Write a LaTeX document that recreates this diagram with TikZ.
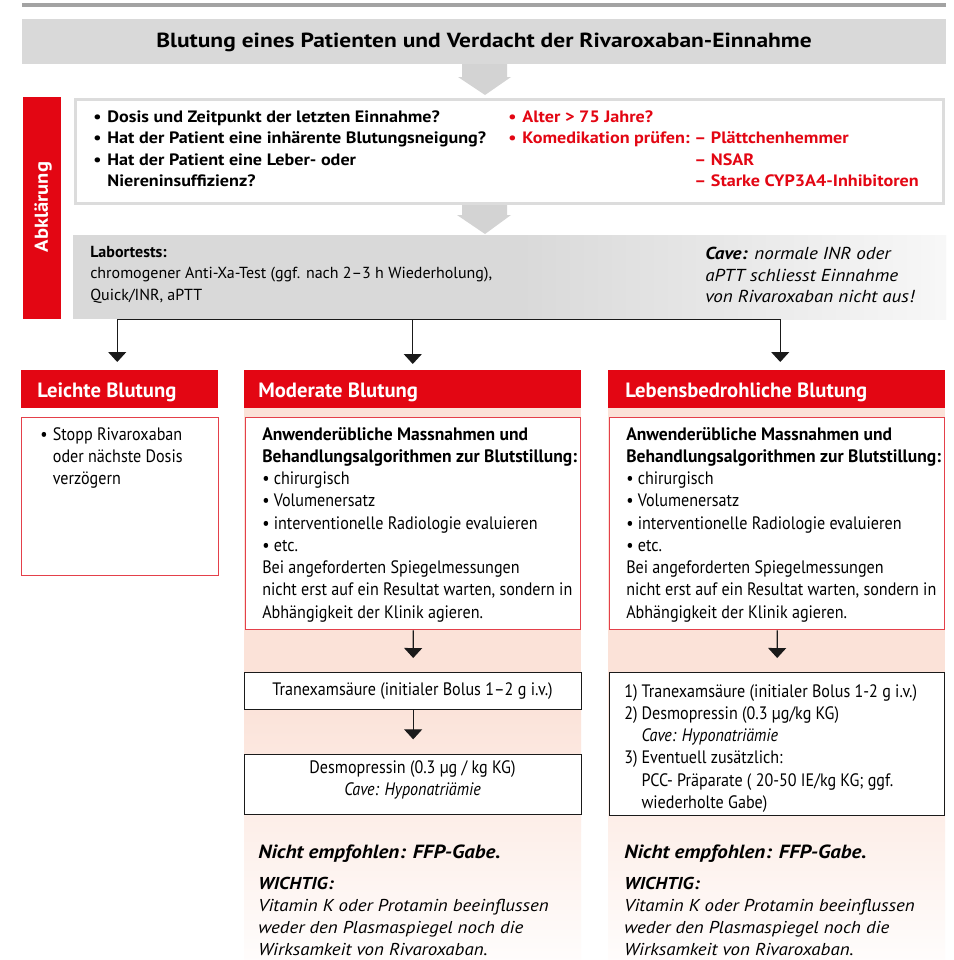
\documentclass[tikz,border=0pt]{standalone}
\usepackage{fontspec}
\setmainfont{PT Sans}
\newfontfamily\cond{PT Sans}[FakeStretch=0.895, BoldFeatures={FakeStretch=0.975}]
\newfontfamily\wide{PT Sans}[FakeStretch=1.1]
\newfontfamily\titlefont{PT Sans}[FakeStretch=1.15]
\usetikzlibrary{arrows.meta}
\definecolor{rred}{HTML}{E30613}
\definecolor{bred}{HTML}{E4404A}
\definecolor{pinkbg}{HTML}{FBE2D8}
\definecolor{lgray}{HTML}{D9D9D9}
\definecolor{tgray}{HTML}{A3A3A3}
\definecolor{agray}{HTML}{D3D3D3}
\definecolor{qgray}{HTML}{DCDCDC}
\definecolor{dark}{HTML}{1A1A1A}
\begin{document}
\begin{tikzpicture}[x=0.75pt,y=-0.75pt,
  conn/.style={draw=dark, line width=0.9pt},
  tip/.style={-{Triangle[width=13.5pt,length=7.5pt]}},
  txt/.style={inner sep=0pt, anchor=base west},
  boxnw/.style={inner sep=0pt, anchor=north west},
  redbox/.style={boxnw, draw=bred, line width=1.1pt, fill=white},
  blkbox/.style={boxnw, draw=dark, line width=1pt, fill=white},
  headbox/.style={boxnw, fill=rred, minimum height=28.5pt},
  bodyfont/.style={font=\cond\fontsize{13.5}{16.7}\selectfont},
  headfont/.style={font=\rmfamily\bfseries\fontsize{15.5}{18}\selectfont, text=white},
  notefont/.style={font=\wide\itshape\fontsize{12.9}{16.5}\selectfont}
]
\useasboundingbox (0,0) rectangle (953,960);
\fill[white] (0,0) rectangle (953,960);

% top rule
\draw[tgray, line width=2.4pt] (22,5) -- (946,5);

% title
\node[boxnw, fill=lgray, minimum width=693pt, minimum height=33.75pt] (title) at (22,19) {};
\node[inner sep=0pt, font=\titlefont\bfseries\fontsize{15.3}{18}\selectfont] (titletext) at (484,42) {Blutung eines Patienten und Verdacht der Rivaroxaban-Einnahme};

% block arrows
\fill[agray] (462,64) -- (507,64) -- (507,77) -- (511,77) -- (485,95) -- (458,77) -- (462,77) -- cycle;
\fill[agray] (462,202) -- (507,202) -- (507,215) -- (511,215) -- (485,234) -- (457,215) -- (462,215) -- cycle;

% Abklaerung bar
\node[boxnw, fill=rred, minimum width=28.5pt, minimum height=166.5pt] (abk) at (23,97) {};
\node[rotate=90, inner sep=0pt, text=white, font=\wide\bfseries\fontsize{14}{16}\selectfont] (abktext) at (43,207) {Abklärung};

% question box
\node[boxnw, draw=qgray, line width=2pt, fill=white, minimum width=651pt, minimum height=78pt] (qbox) at (74,98) {};
\node[txt, font=\wide\bfseries\fontsize{12.35}{16.2}\selectfont] (qtext) at (93,122)
{\begin{tabular}[t]{@{}l@{\hspace{4.5pt}}l@{}}
\textbullet & Dosis und Zeitpunkt der letzten Einnahme?\\
\textbullet & Hat der Patient eine inhärente Blutungsneigung?\\
\textbullet & Hat der Patient eine Leber- oder\\
 & Niereninsuffizienz?
\end{tabular}};
\node[txt, text=rred, font=\wide\bfseries\fontsize{12.35}{16.2}\selectfont] (rtext) at (508,122)
{\begin{tabular}[t]{@{}l@{\hspace{4.5pt}}l@{\hspace{3.5pt}}l@{}}
\textbullet & Alter > 75 Jahre? & \\
\textbullet & Komedikation prüfen: & – Plättchenhemmer\\
 & & – NSAR\\
 & & – Starke CYP3A4-Inhibitoren
\end{tabular}};

% lab box
\node[boxnw, fill=lgray, minimum width=654.75pt, minimum height=63pt] (lab) at (73,235) {};
\shade[left color=lgray, right color=white!97!black] (520,235) rectangle (946,319);
\node[txt, font=\rmfamily\fontsize{12}{16.2}\selectfont] (labtext) at (90,257)
{\begin{tabular}[t]{@{}l@{}}
\textbf{Labortests:}\\
chromogener Anti-Xa-Test (ggf. nach 2–3 h Wiederholung),\\
Quick/INR, aPTT
\end{tabular}};
\node[txt, font=\wide\itshape\fontsize{13}{16.2}\selectfont] (cavetext) at (705,259.5)
{\begin{tabular}[t]{@{}l@{}}
\textbf{Cave:} normale INR oder\\
aPTT schliesst Einnahme\\
von Rivaroxaban nicht aus!
\end{tabular}};

% pink column backgrounds
\fill[pinkbg] (244,400) rectangle (581,700);
\shade[top color=pinkbg, bottom color=pinkbg!8!white] (244,699.5) rectangle (581,960);
\fill[pinkbg] (608,400) rectangle (945,700);
\shade[top color=pinkbg, bottom color=pinkbg!8!white] (608,699.5) rectangle (945,960);

% headers
\node[headbox, minimum width=147.75pt] (leihead) at (21,370) {};
\node[headbox, minimum width=252.75pt] (modhead) at (244,370) {};
\node[headbox, minimum width=252.75pt] (lebhead) at (608,370) {};
\node[txt, headfont] (leiheadtext) at (37,397) {Leichte Blutung};
\node[txt, headfont] (modheadtext) at (258,397) {Moderate Blutung};
\node[txt, headfont] (lebheadtext) at (625,397) {Lebensbedrohliche Blutung};

% main boxes
\node[redbox, minimum width=147.75pt, minimum height=118.5pt] (leibox) at (21,417) {};
\node[redbox, minimum width=251.25pt, minimum height=159pt] (modmain) at (245,417) {};
\node[redbox, minimum width=251.25pt, minimum height=159pt] (lebmain) at (609,417) {};

\node[txt, bodyfont] (leitext) at (40,440)
{\begin{tabular}[t]{@{}l@{\hspace{4pt}}l@{}}
\textbullet & Stopp Rivaroxaban\\
 & oder nächste Dosis\\
 & verzögern
\end{tabular}};

\node[txt, bodyfont] (modmaintext) at (262,440)
{\begin{tabular}[t]{@{}l@{}}
\textbf{Anwenderübliche Massnahmen und}\\
\textbf{Behandlungsalgorithmen zur Blutstillung:}\\
\textbullet\ chirurgisch\\
\textbullet\ Volumenersatz\\
\textbullet\ interventionelle Radiologie evaluieren\\
\textbullet\ etc.\\
Bei angeforderten Spiegelmessungen\\
nicht erst auf ein Resultat warten, sondern in\\
Abhängigkeit der Klinik agieren.
\end{tabular}};

\node[txt, bodyfont] (lebmaintext) at (626,440)
{\begin{tabular}[t]{@{}l@{}}
\textbf{Anwenderübliche Massnahmen und}\\
\textbf{Behandlungsalgorithmen zur Blutstillung:}\\
\textbullet\ chirurgisch\\
\textbullet\ Volumenersatz\\
\textbullet\ interventionelle Radiologie evaluieren\\
\textbullet\ etc.\\
Bei angeforderten Spiegelmessungen\\
nicht erst auf ein Resultat warten, sondern in\\
Abhängigkeit der Klinik agieren.
\end{tabular}};

% medication boxes
\node[blkbox, minimum width=252.75pt, minimum height=27.75pt] (modtx) at (244,672) {};
\node[inner sep=0pt, bodyfont] (modtxtext) at (412.5,691) {Tranexamsäure (initialer Bolus 1–2 g i.v.)};
\node[blkbox, minimum width=252.75pt, minimum height=45pt] (moddes) at (244,754) {};
\node[inner sep=0pt, anchor=base, bodyfont] (moddestext) at (412.5,773.5)
{\begin{tabular}[t]{@{}c@{}}
Desmopressin (0.3 µg / kg KG)\\
\textit{Cave: Hyponatriämie}
\end{tabular}};
\node[blkbox, minimum width=251.25pt, minimum height=107.25pt] (lebmed) at (609,672) {};
\node[txt, bodyfont] (lebmedtext) at (624,697)
{\begin{tabular}[t]{@{}l@{\hspace{3pt}}l@{}}
1) & Tranexamsäure (initialer Bolus 1-2 g i.v.)\\
2) & Desmopressin (0.3 µg/kg KG)\\
 & \textit{Cave: Hyponatriämie}\\
3) & Eventuell zusätzlich:\\
 & PCC- Präparate ( 20-50 IE/kg KG; ggf.\\
 & wiederholte Gabe)
\end{tabular}};

% bottom notes
\node[txt, font=\wide\bfseries\itshape\fontsize{14.3}{16.5}\selectfont] (modnicht) at (258,858) {Nicht empfohlen: FFP-Gabe.};
\node[txt, font=\wide\bfseries\itshape\fontsize{14.3}{16.5}\selectfont] (lebnicht) at (624,858) {Nicht empfohlen: FFP-Gabe.};
\node[txt, notefont] (modwichtig) at (258,889)
{\begin{tabular}[t]{@{}l@{}}
\textbf{WICHTIG:}\\
Vitamin K oder Protamin beeinflussen\\
weder den Plasmaspiegel noch die\\
Wirksamkeit von Rivaroxaban.
\end{tabular}};
\node[txt, notefont] (lebwichtig) at (624,889)
{\begin{tabular}[t]{@{}l@{}}
\textbf{WICHTIG:}\\
Vitamin K oder Protamin beeinflussen\\
weder den Plasmaspiegel noch die\\
Wirksamkeit von Rivaroxaban.
\end{tabular}};

% connectors
\coordinate (split) at (lab.south |- 0,344);
\draw[conn, tip] (lab.south -| modhead.north) -- ([yshift=4.5pt]modhead.north);
\draw[conn, tip] (lab.south -| modhead.north |- split) -| ([xshift=-1.9pt,yshift=6pt]leihead.north);
\draw[conn, tip] (lab.south -| modhead.north |- split) -| ([xshift=2.6pt,yshift=6pt]lebhead.north);
\draw[conn, tip, shorten >=10.5pt] (modmain.south) -- (modtx.north);
\draw[conn, tip, shorten >=11pt] (modtx.south) -- (moddes.north);
\draw[conn, tip, shorten >=10.5pt] (lebmain.south) -- (lebmed.north);
\end{tikzpicture}
\end{document}
